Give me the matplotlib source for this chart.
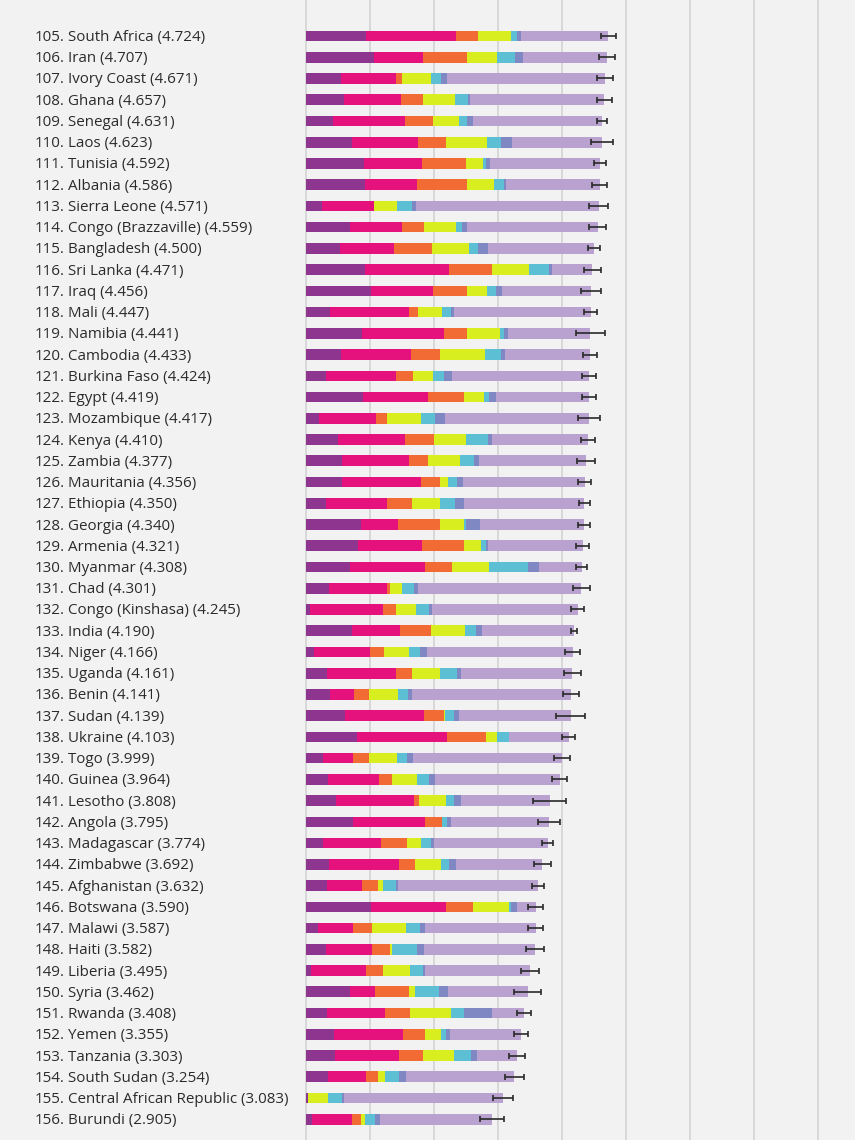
import matplotlib

matplotlib.use("Agg")
import matplotlib.pyplot as plt  # noqa: E402
import matplotlib.transforms as mtransforms  # noqa: E402

# World Happiness Report 2018, ranks 105-156
ranks = list(range(105, 157))
countries = [
    "South Africa", "Iran", "Ivory Coast", "Ghana", "Senegal", "Laos", "Tunisia",
    "Albania", "Sierra Leone", "Congo (Brazzaville)", "Bangladesh", "Sri Lanka",
    "Iraq", "Mali", "Namibia", "Cambodia", "Burkina Faso", "Egypt", "Mozambique",
    "Kenya", "Zambia", "Mauritania", "Ethiopia", "Georgia", "Armenia", "Myanmar",
    "Chad", "Congo (Kinshasa)", "India", "Niger", "Uganda", "Benin", "Sudan",
    "Ukraine", "Togo", "Guinea", "Lesotho", "Angola", "Madagascar", "Zimbabwe",
    "Afghanistan", "Botswana", "Malawi", "Haiti", "Liberia", "Syria", "Rwanda",
    "Yemen", "Tanzania", "South Sudan", "Central African Republic", "Burundi",
]
scores = [
    4.724, 4.707, 4.671, 4.657, 4.631, 4.623, 4.592, 4.586, 4.571, 4.559, 4.500,
    4.471, 4.456, 4.447, 4.441, 4.433, 4.424, 4.419, 4.417, 4.410, 4.377, 4.356,
    4.350, 4.340, 4.321, 4.308, 4.301, 4.245, 4.190, 4.166, 4.161, 4.141, 4.139,
    4.103, 3.999, 3.964, 3.808, 3.795, 3.774, 3.692, 3.632, 3.590, 3.587, 3.582,
    3.495, 3.462, 3.408, 3.355, 3.303, 3.254, 3.083, 2.905,
]
gdp = [
    0.940, 1.059, 0.541, 0.592, 0.429, 0.720, 0.900, 0.916, 0.256, 0.682, 0.532,
    0.918, 1.010, 0.370, 0.874, 0.549, 0.314, 0.885, 0.198, 0.493, 0.562, 0.557,
    0.308, 0.853, 0.816, 0.682, 0.358, 0.069, 0.721, 0.131, 0.322, 0.378, 0.605,
    0.793, 0.259, 0.344, 0.472, 0.730, 0.262, 0.357, 0.332, 1.017, 0.186, 0.315,
    0.076, 0.689, 0.332, 0.442, 0.455, 0.337, 0.024, 0.091,
]
social = [
    1.410, 0.771, 0.872, 0.896, 1.117, 1.034, 0.906, 0.817, 0.813, 0.811, 0.850,
    1.314, 0.971, 1.233, 1.281, 1.088, 1.097, 1.025, 0.902, 1.048, 1.047, 1.245,
    0.950, 0.592, 0.990, 1.174, 0.907, 1.136, 0.747, 0.867, 1.090, 0.372, 1.240,
    1.413, 0.474, 0.792, 1.215, 1.125, 0.908, 1.094, 0.537, 1.174, 0.541, 0.714,
    0.858, 0.382, 0.896, 1.073, 0.991, 0.608, 0.000, 0.627,
]
health = [
    0.330, 0.691, 0.080, 0.337, 0.433, 0.441, 0.690, 0.790, 0.000, 0.343, 0.579,
    0.672, 0.536, 0.152, 0.365, 0.457, 0.254, 0.553, 0.173, 0.454, 0.295, 0.292,
    0.391, 0.643, 0.666, 0.429, 0.053, 0.204, 0.485, 0.221, 0.237, 0.240, 0.312,
    0.609, 0.253, 0.211, 0.079, 0.269, 0.402, 0.248, 0.255, 0.417, 0.306, 0.289,
    0.267, 0.539, 0.400, 0.343, 0.381, 0.177, 0.010, 0.145,
]
freedom = [
    0.516, 0.459, 0.467, 0.499, 0.406, 0.626, 0.271, 0.419, 0.355, 0.514, 0.580,
    0.585, 0.304, 0.367, 0.519, 0.696, 0.312, 0.312, 0.531, 0.504, 0.503, 0.129,
    0.452, 0.375, 0.260, 0.580, 0.189, 0.312, 0.539, 0.390, 0.450, 0.440, 0.016,
    0.163, 0.434, 0.394, 0.423, 0.000, 0.221, 0.406, 0.085, 0.557, 0.531, 0.025,
    0.419, 0.088, 0.636, 0.244, 0.481, 0.112, 0.305, 0.065,
]
generosity = [
    0.103, 0.282, 0.146, 0.212, 0.138, 0.230, 0.040, 0.149, 0.238, 0.091, 0.153,
    0.307, 0.148, 0.139, 0.051, 0.256, 0.175, 0.092, 0.206, 0.352, 0.221, 0.134,
    0.220, 0.038, 0.077, 0.598, 0.181, 0.197, 0.172, 0.175, 0.259, 0.163, 0.134,
    0.187, 0.158, 0.185, 0.116, 0.079, 0.155, 0.132, 0.191, 0.042, 0.210, 0.392,
    0.206, 0.376, 0.200, 0.083, 0.270, 0.224, 0.218, 0.149,
]
corruption = [
    0.056, 0.129, 0.103, 0.029, 0.082, 0.174, 0.063, 0.032, 0.053, 0.077, 0.144,
    0.050, 0.095, 0.056, 0.064, 0.065, 0.128, 0.107, 0.158, 0.055, 0.082, 0.093,
    0.146, 0.215, 0.028, 0.178, 0.060, 0.052, 0.093, 0.099, 0.061, 0.067, 0.082,
    0.011, 0.101, 0.094, 0.112, 0.061, 0.049, 0.099, 0.036, 0.092, 0.080, 0.104,
    0.030, 0.144, 0.444, 0.064, 0.097, 0.106, 0.038, 0.076,
]
# half width of the 95% confidence interval
ci_half = [
    0.112, 0.125, 0.122, 0.117, 0.078, 0.167, 0.094, 0.122, 0.146, 0.135, 0.094,
    0.135, 0.159, 0.100, 0.224, 0.112, 0.104, 0.107, 0.174, 0.112, 0.135, 0.104,
    0.083, 0.094, 0.104, 0.083, 0.130, 0.104, 0.044, 0.112, 0.135, 0.120, 0.227,
    0.107, 0.120, 0.117, 0.258, 0.172, 0.086, 0.130, 0.094, 0.120, 0.115, 0.143,
    0.138, 0.214, 0.104, 0.107, 0.125, 0.146, 0.156, 0.182,
]

BG = "#f2f2f2"
COLORS = ["#8e368f", "#e5127d", "#f26b35", "#d9ee1f", "#5dbfd4", "#7f88c3", "#b9a1d0"]

# dystopia + residual is what is left of the score
dystopia = [s - sum(p) for s, *p in zip(scores, gdp, social, health, freedom, generosity, corruption)]
parts = [gdp, social, health, freedom, generosity, corruption, dystopia]

W, H = 855, 1140
fig = plt.figure(figsize=(W / 100, H / 100), dpi=100, facecolor=BG)
x0 = 300
ax = fig.add_axes([x0 / W, 0, (W - x0) / W, 1], facecolor=BG)

px_per_unit = 64.0
row_px = 21.24
first_row_px = 36.0
ax.set_xlim(-(306 - x0) / px_per_unit, (W - 306) / px_per_unit)
ax.set_ylim((H - first_row_px) / row_px, -first_row_px / row_px)

for g in range(0, 9):
    ax.axvline(g, color="#d6d6d6", lw=1.3, zorder=0)

y = list(range(len(countries)))
left = [0.0] * len(countries)
for vals, col in zip(parts, COLORS):
    ax.barh(y, vals, left=left, height=0.5, color=col, lw=0, zorder=2)
    left = [a + b for a, b in zip(left, vals)]

ax.errorbar(scores, y, xerr=ci_half, fmt="none", ecolor="#2a2a2a",
            elinewidth=1.2, capsize=2.2, capthick=1.2, zorder=3)

ax.axis("off")

trans = mtransforms.blended_transform_factory(fig.transFigure, ax.transData)
font = dict(family=["Open Sans", "DejaVu Sans"], fontsize=10.9, color="#2b2b2b",
            va="center", transform=trans)
for i, (r, c, s) in enumerate(zip(ranks, countries, scores)):
    ax.text(35 / W, i + 0.07, f"{r}.", **font)
    ax.text(68 / W, i + 0.07, f"{c} ({s:.3f})", **font)

fig.savefig("out.png", dpi=100, facecolor=BG)
